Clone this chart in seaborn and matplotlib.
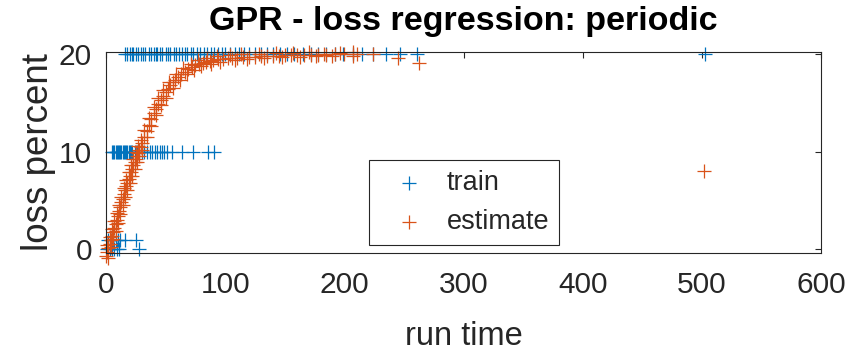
import matplotlib
matplotlib.use("Agg")
import matplotlib.pyplot as plt
import seaborn as sns
import pandas as pd

# ---------------- data ----------------
train_x20 = [16, 18, 20, 22, 23, 25, 27, 29, 31, 33, 36, 38, 40, 42, 43, 45, 47, 50,
             52, 54, 57, 59, 61, 64, 66, 68, 71, 73, 76, 79, 82, 85, 88, 91, 94, 97,
             100, 104, 108, 112, 116, 120, 125, 130, 135, 140, 146, 152, 158, 165,
             172, 178, 185, 192, 199, 207, 215, 224, 235, 247, 261, 503]
train_x10 = [5, 6, 7, 8, 9, 10, 11, 12, 13, 14, 15, 16, 17, 18, 19, 20, 21, 22, 24,
             26, 28, 30, 32, 34, 37, 39, 41, 43, 45, 47, 49, 51, 55, 64, 73, 86, 91]
train_x0 = [1, 2, 3, 4, 5, 6, 7, 8, 9, 10, 11, 12, 16, 25, 28]
train_y0 = [0, 1, 0, 1, 0, 1, 0, 1, 0, 1, 0, 1, 1, 1, 0]

est_x = [0, 1, 2, 3, 4, 5, 6, 7, 8, 9, 10, 11, 12, 13, 14, 15, 16, 17, 18, 19, 20,
         21, 22, 23, 24, 25, 26, 27, 28, 29, 30, 32, 34, 36, 38, 40, 42, 44, 46, 48,
         50, 52, 54, 56, 58, 60, 63, 66, 69, 72, 75, 78, 81, 84, 87, 90, 94, 98, 102,
         106, 110, 115, 120, 125, 130, 135, 140, 145, 150, 155, 160, 166, 172, 178,
         185, 192, 200, 207, 207, 211, 224, 245, 263, 502,
         1, 2, 3, 4, 5, 6, 7, 8, 9, 10, 11, 12, 13, 14, 15, 16, 17, 18, 19, 20, 21,
         22, 23, 24, 25, 26, 27, 28, 29, 30, 32, 34, 36, 38, 40, 42, 44, 46, 48, 50,
         53, 56, 59, 62, 65, 68, 71, 74, 77, 80, 85, 88, 93, 96, 104, 108, 113, 118,
         128, 133, 143, 148, 157, 163, 170, 176, 183, 190, 196]
est_y = [-0.7, -0.3, 0.1, 0.6, 1.0, 1.4, 1.8, 2.2, 2.6, 3.0, 3.4, 3.9, 4.3, 4.8, 5.2,
         5.7, 6.1, 6.5, 6.8, 7.2, 7.5, 7.9, 8.2, 8.6, 8.9, 9.2, 9.6, 9.9, 10.2, 10.5,
         10.9, 11.5, 12.1, 12.7, 13.3, 14.0, 14.4, 14.9, 15.3, 15.7, 16.1, 16.4, 16.8,
         17.1, 17.3, 17.6, 17.9, 18.2, 18.5, 18.7, 18.9, 19.0, 19.1, 19.2, 19.3, 19.4,
         19.45, 19.5, 19.55, 19.6, 19.6, 19.65, 19.7, 19.7, 19.75, 19.8, 19.8, 19.82,
         19.85, 19.85, 19.9, 19.9, 19.9, 19.92, 19.93, 19.95, 19.95, 19.8, 20.2, 20.0,
         20.0, 19.6, 19.1, 8.0,
         0.4, -0.9, 1.3, 0.2, 2.1, 1.1, 2.9, 1.9, 3.7, 2.7, 4.5, 3.6, 5.4, 4.5, 6.3,
         5.4, 7.1, 6.1, 7.9, 6.8, 8.6, 7.5, 9.3, 8.2, 10.0, 8.9, 10.6, 9.6, 11.2, 10.2,
         12.2, 11.5, 13.4, 12.6, 14.6, 13.8, 15.5, 14.8, 16.3, 15.5, 17.1, 16.5, 17.9,
         17.3, 18.6, 17.9, 19.0, 18.4, 19.4, 18.8, 19.6, 19.0, 19.8, 19.2, 19.9, 19.4,
         20.0, 19.5, 20.0, 19.6, 20.1, 19.7, 20.1, 19.7, 20.2, 19.8, 20.0, 19.8, 20.1]

x_ticks = [0, 100, 200, 300, 400, 500, 600]
y_ticks = [0, 10, 20]

blue = "#0072BD"
orange = "#D95319"
dark = "#262626"

train_x = train_x20 + train_x10 + train_x0
train_y = [20] * len(train_x20) + [10] * len(train_x10) + train_y0
train_df = pd.DataFrame({"run time": train_x, "loss percent": train_y})
est_df = pd.DataFrame({"run time": est_x, "loss percent": est_y})

sns.set_theme(style="white")
plt.rcParams["font.family"] = ["Liberation Sans", "DejaVu Sans"]

fig = plt.figure(figsize=(8.65, 3.54), dpi=100)
ax = fig.add_axes([106 / 865, 1 - 253 / 354, 715 / 865, 201 / 354])

sns.scatterplot(data=train_df, x="run time", y="loss percent", marker="+", s=90,
                color=blue, linewidth=0.9, clip_on=False, label="train", ax=ax)
sns.scatterplot(data=est_df, x="run time", y="loss percent", marker="+", s=90,
                color=orange, linewidth=0.9, clip_on=False, label="estimate", ax=ax)

ax.set_xlim(0, 600)
ax.set_ylim(-0.37, 20.2)
ax.set_xticks(x_ticks)
ax.set_yticks(y_ticks)
ax.tick_params(direction="in", length=4.5, width=0.8, top=True, right=True,
               colors=dark, labelsize=21.5)
ax.tick_params(axis="x", pad=13)
ax.tick_params(axis="y", pad=10)
for sp in ax.spines.values():
    sp.set_color(dark)
    sp.set_linewidth(0.8)

ax.set_xlabel("run time", fontsize=23.5, color=dark, labelpad=16)
ax.set_ylabel("loss percent", fontsize=26.5, color=dark, labelpad=2)
ax.set_title("GPR - loss regression: periodic", fontsize=24.5, fontweight="bold",
             color="black", pad=16)

leg = ax.legend(loc="lower left", bbox_to_anchor=(0.368, 0.04), fancybox=False,
                edgecolor=dark, framealpha=1, fontsize=19.5, handlelength=2.15,
                handletextpad=0.33, borderpad=0.38, labelspacing=0.45, borderaxespad=0)
leg.get_frame().set_linewidth(0.8)

fig.savefig("out.png", dpi=100)
